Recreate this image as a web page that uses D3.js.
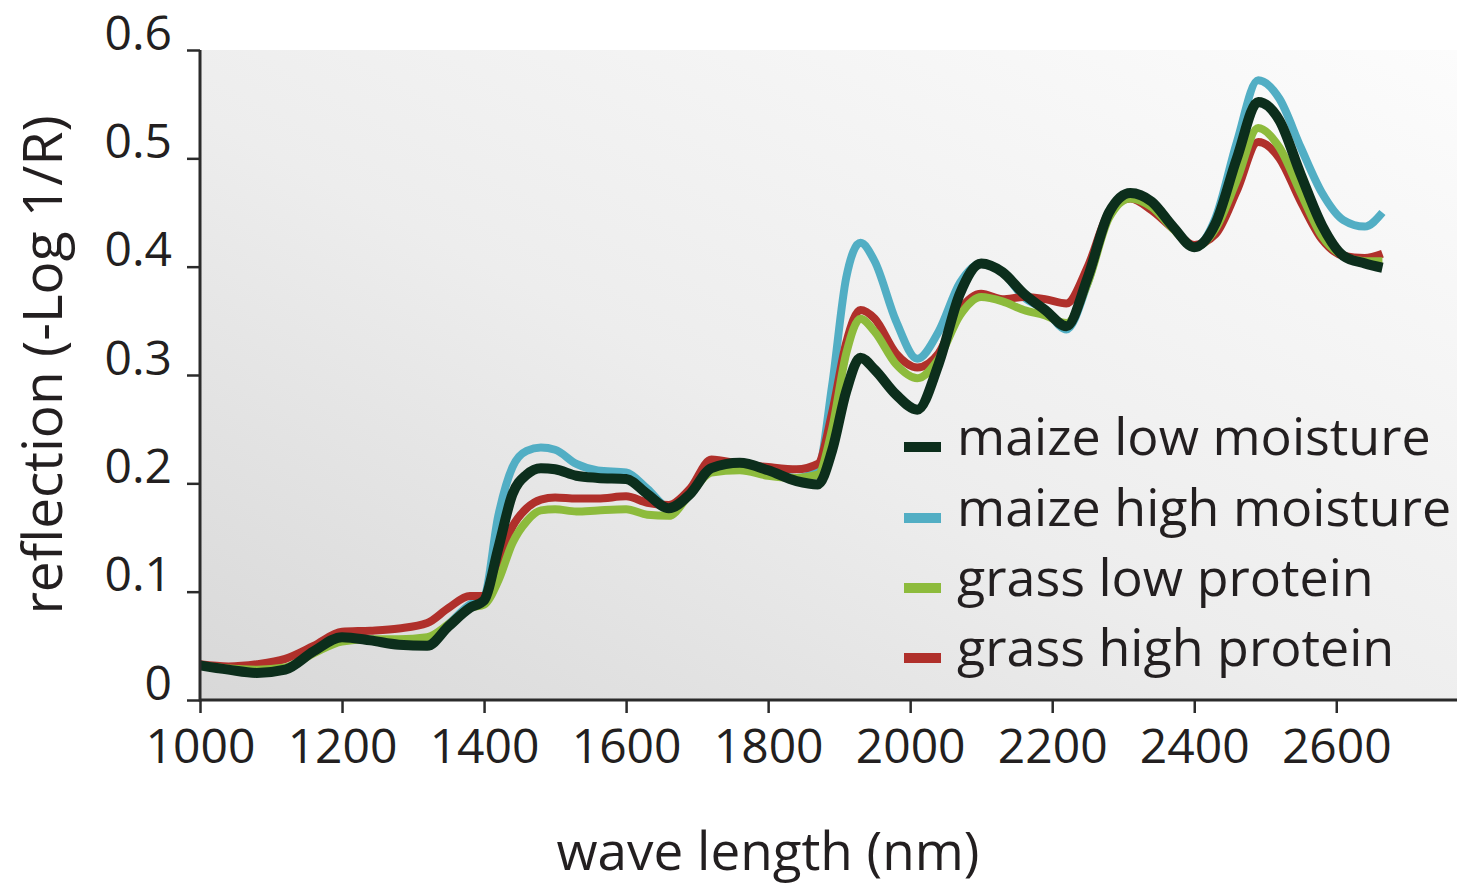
<!DOCTYPE html>
<html><head><meta charset="utf-8">
<script src="https://cdn.jsdelivr.net/npm/d3@7"></script>
<style>
html,body{margin:0;padding:0;background:#fff;}
svg{display:block;}
text{font-family:"Open Sans",sans-serif;fill:#231f20;}
</style></head>
<body>
<svg id="chart" width="1457" height="887"></svg>
<script>
// ---- data ----
const wavelengths = [1000,1040,1080,1120,1160,1200,1240,1280,1320,1350,1380,1400,1420,1440,1460,1480,1500,1530,1560,1600,1630,1660,1690,1720,1760,1800,1840,1870,1890,1910,1930,1950,1980,2010,2040,2070,2100,2130,2160,2190,2220,2250,2280,2310,2340,2370,2400,2430,2460,2490,2520,2550,2580,2610,2640,2665];
const maizeLowMoisture  = [0.032,0.028,0.025,0.028,0.045,0.058,0.055,0.051,0.050,0.068,0.085,0.092,0.140,0.190,0.208,0.214,0.213,0.207,0.205,0.204,0.190,0.177,0.190,0.214,0.219,0.212,0.202,0.199,0.230,0.285,0.316,0.305,0.282,0.268,0.310,0.375,0.403,0.395,0.375,0.360,0.345,0.390,0.450,0.468,0.460,0.437,0.418,0.440,0.500,0.552,0.535,0.485,0.438,0.410,0.403,0.399];
const maizeHighMoisture = [0.032,0.028,0.026,0.029,0.045,0.058,0.056,0.053,0.053,0.070,0.088,0.095,0.170,0.215,0.230,0.233,0.231,0.218,0.212,0.210,0.195,0.178,0.190,0.214,0.219,0.212,0.205,0.212,0.290,0.390,0.422,0.405,0.350,0.315,0.340,0.385,0.403,0.395,0.372,0.360,0.342,0.385,0.448,0.466,0.458,0.437,0.418,0.445,0.515,0.572,0.555,0.510,0.468,0.443,0.437,0.450];
const grassLowProtein   = [0.032,0.029,0.028,0.030,0.043,0.054,0.056,0.056,0.058,0.070,0.085,0.088,0.110,0.145,0.165,0.175,0.176,0.174,0.175,0.176,0.171,0.170,0.190,0.210,0.212,0.207,0.205,0.208,0.250,0.320,0.352,0.340,0.310,0.297,0.315,0.355,0.372,0.368,0.360,0.355,0.348,0.385,0.445,0.463,0.455,0.435,0.418,0.435,0.480,0.528,0.510,0.468,0.428,0.410,0.405,0.405];
const grassHighProtein  = [0.033,0.031,0.033,0.038,0.050,0.063,0.064,0.066,0.071,0.085,0.096,0.096,0.125,0.160,0.177,0.185,0.187,0.186,0.186,0.188,0.182,0.180,0.195,0.222,0.218,0.215,0.213,0.218,0.265,0.330,0.360,0.352,0.320,0.307,0.320,0.360,0.375,0.370,0.372,0.370,0.366,0.400,0.450,0.463,0.452,0.435,0.420,0.430,0.470,0.515,0.500,0.460,0.425,0.410,0.408,0.412];
const seriesNames  = ["maize low moisture","maize high moisture","grass low protein","grass high protein"];
const seriesColors = ["#0c2e1c","#52aec4","#8dbb3c","#b0302b"];
const xTicks = [1000,1200,1400,1600,1800,2000,2200,2400,2600];
const yTicks = [0,0.1,0.2,0.3,0.4,0.5,0.6];
const xTitle = "wave length (nm)";
const yTitle = "reflection (-Log 1/R)";

// ---- layout ----
const svg = d3.select("#chart");
const pLeft = 200, pRight = 1457, pTop = 50, pBottom = 700;
const x = d3.scaleLinear().domain([1000, 2770]).range([pLeft, pRight]);
const y = d3.scaleLinear().domain([0, 0.6]).range([pBottom, pTop]);

const defs = svg.append("defs");
const grad = defs.append("linearGradient").attr("id","bg")
  .attr("x1","100%").attr("y1","0%").attr("x2","0%").attr("y2","100%");
grad.append("stop").attr("offset","0%").attr("stop-color","#fcfcfc");
grad.append("stop").attr("offset","55%").attr("stop-color","#ededed");
grad.append("stop").attr("offset","100%").attr("stop-color","#d8d8d8");

svg.append("rect").attr("x",pLeft).attr("y",pTop).attr("width",pRight-pLeft).attr("height",pBottom-pTop)
  .attr("fill","url(#bg)");

// lines
const seriesData = [maizeLowMoisture, maizeHighMoisture, grassLowProtein, grassHighProtein];
const line = d3.line().x((d,i)=>x(wavelengths[i])).y(d=>y(d)).curve(d3.curveMonotoneX);
const drawOrder = [1,3,2,0];
const widths = [10,8,8,8];
drawOrder.forEach(k=>{
  svg.append("path").datum(seriesData[k]).attr("d",line)
    .attr("fill","none").attr("stroke",seriesColors[k]).attr("stroke-width",widths[k])
    .attr("stroke-linejoin","round").attr("stroke-linecap","butt");
});

// axes
const axisColor = "#2b2b2b";
const xAxis = svg.append("g").attr("transform",`translate(0,${pBottom})`)
  .call(d3.axisBottom(x).tickValues(xTicks).tickSize(13).tickPadding(14).tickFormat(d3.format("d")));
const yAxis = svg.append("g").attr("transform",`translate(${pLeft},0)`)
  .call(d3.axisLeft(y).tickValues(yTicks).tickSize(13).tickPadding(15).tickFormat(d=>d===0?"0":d3.format(".1f")(d)));
[xAxis,yAxis].forEach(g=>{
  g.select(".domain").remove();
  g.selectAll(".tick line").attr("stroke",axisColor).attr("stroke-width",2.5);
  g.selectAll(".tick text").attr("fill","#231f20").style("font-family","'Open Sans',sans-serif").style("font-size","48px");
});
xAxis.selectAll(".tick text").attr("dy",null).attr("y",63);
yAxis.selectAll(".tick text").attr("dy",null).attr("x",-28).attr("y",-1);
// axis lines
svg.append("line").attr("x1",pLeft).attr("x2",pRight).attr("y1",pBottom).attr("y2",pBottom)
  .attr("stroke",axisColor).attr("stroke-width",3);
svg.append("line").attr("x1",pLeft).attr("x2",pLeft).attr("y1",pTop).attr("y2",pBottom+1.5)
  .attr("stroke",axisColor).attr("stroke-width",3);

// titles
svg.append("text").attr("x",768).attr("y",870).attr("text-anchor","middle")
  .style("font-size","53px").text(xTitle);
svg.append("text").attr("transform","translate(62,365) rotate(-90)").attr("text-anchor","middle")
  .style("font-size","55px").text(yTitle);

// legend
const legendY = [447,518,588,658];
seriesNames.forEach((n,i)=>{
  svg.append("rect").attr("x",904).attr("y",legendY[i]-5).attr("width",37).attr("height",10)
    .attr("fill",seriesColors[i]);
  svg.append("text").attr("x",957).attr("y",legendY[i]+8).style("font-size","52px").text(n);
});
</script>
</body></html>
